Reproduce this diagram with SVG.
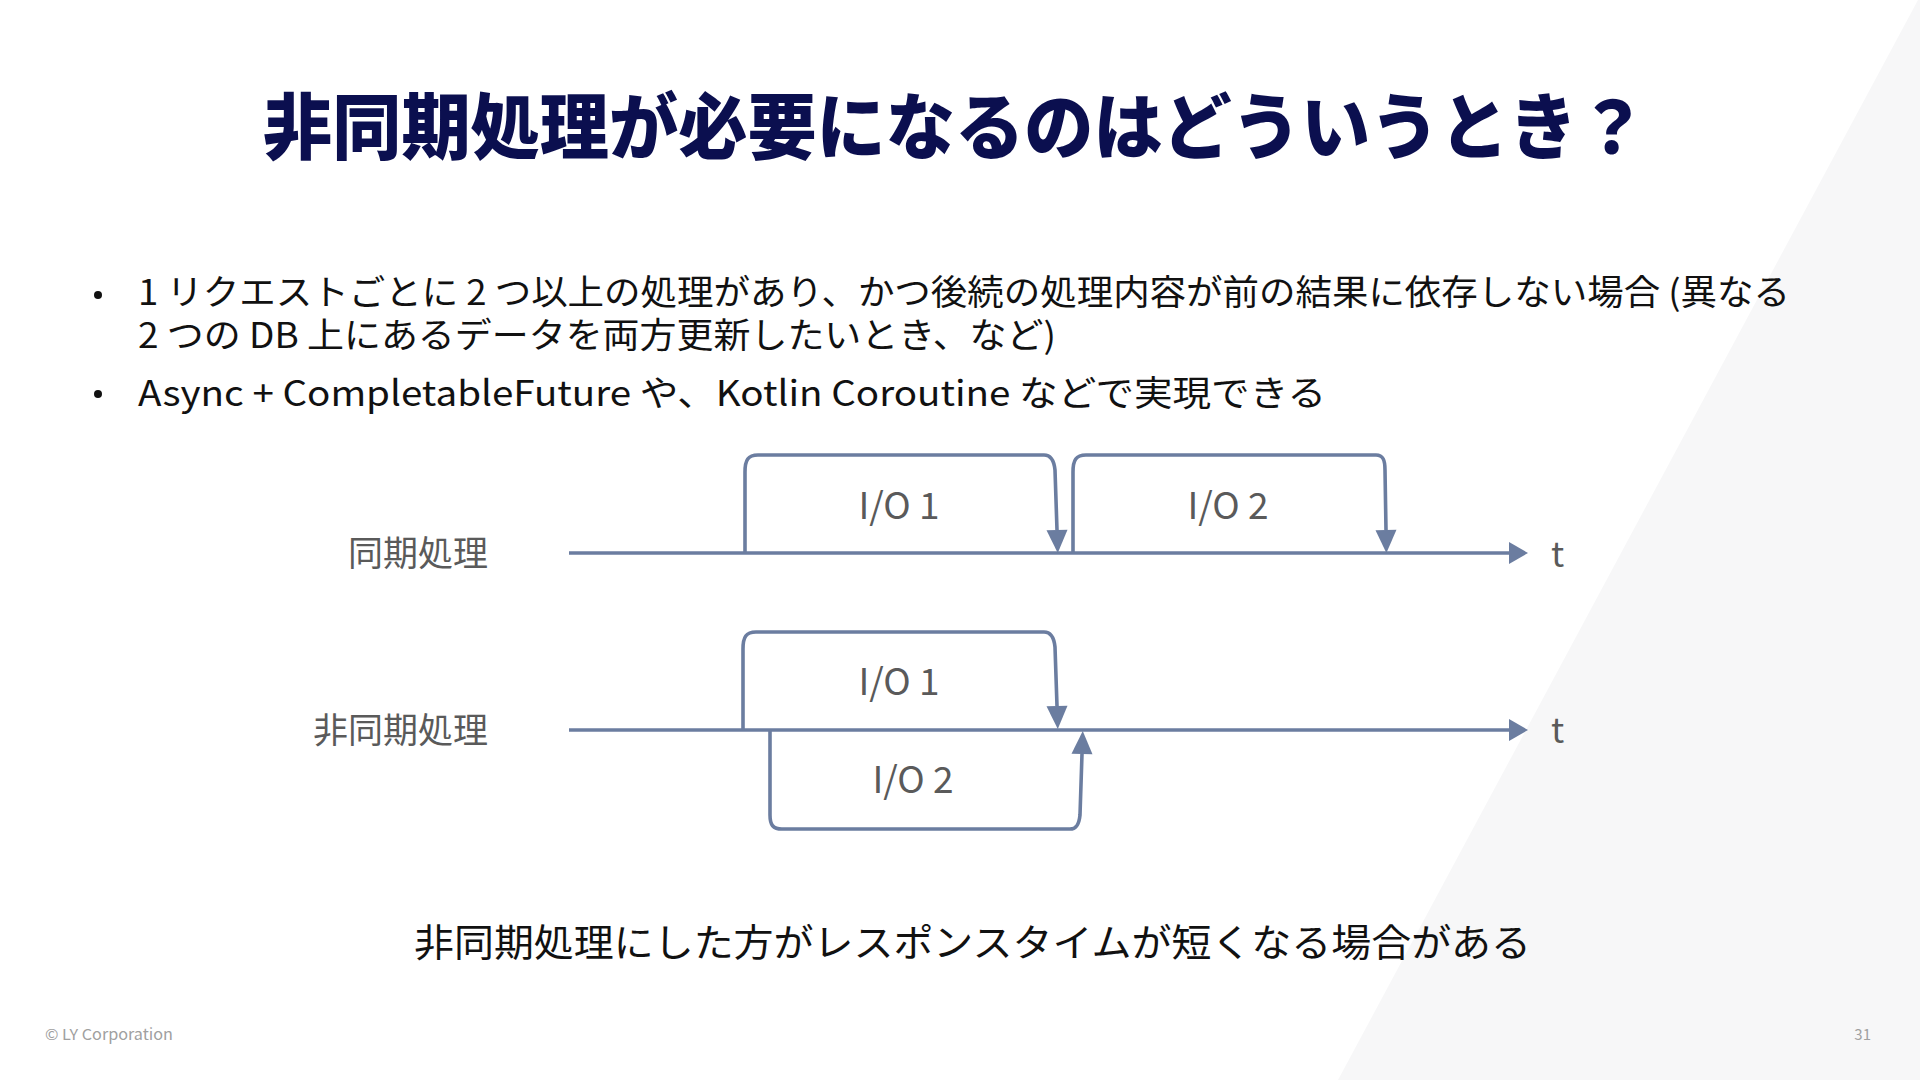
<svg xmlns="http://www.w3.org/2000/svg" width="1920" height="1080" viewBox="0 0 1920 1080">
  <style>
    .jp { font-family: "Noto Sans CJK JP", "Noto Sans", sans-serif; }
    .title { font-size: 72px; font-weight: 900; fill: #0b0f4f; }
    .body { font-size: 35px; fill: #111111; }
    .lbl { font-size: 35px; fill: #5a5a5a; }
    .io { font-size: 37px; fill: #5a5a5a; text-anchor: middle; }
    .foot { font-size: 15px; fill: #a0a0a0; }
    .ln { fill: none; stroke: #6b7da0; stroke-width: 3.6; stroke-linejoin: round; }
  </style>
  <defs>
    <marker id="ahd" markerUnits="userSpaceOnUse" markerWidth="23" markerHeight="22" refX="0" refY="10.5" orient="auto" overflow="visible">
      <path d="M0,0 L23,10.5 L0,21 z" fill="#6b7da0"/>
    </marker>
    <marker id="aha" markerUnits="userSpaceOnUse" markerWidth="19" markerHeight="22" refX="0" refY="11" orient="auto" overflow="visible">
      <path d="M0,0 L19,11 L0,22 z" fill="#6b7da0"/>
    </marker>
  </defs>

  <rect x="0" y="0" width="1920" height="1080" fill="#ffffff"/>
  <polygon points="1918,0 1920,0 1920,1080 1338,1080" fill="#f7f7f8"/>

  <g id="title">
    <text class="jp title" x="263" y="153" textLength="1384" lengthAdjust="spacingAndGlyphs">非同期処理が必要になるのはどういうとき？</text>
  </g>

  <g id="bullets">
    <circle cx="98" cy="295" r="4" fill="#111111"/>
    <text class="jp body" x="138" y="305" textLength="1652" lengthAdjust="spacingAndGlyphs">1 リクエストごとに 2 つ以上の処理があり、かつ後続の処理内容が前の結果に依存しない場合 (異なる</text>
    <text class="jp body" x="138" y="348" textLength="918" lengthAdjust="spacingAndGlyphs">2 つの DB 上にあるデータを両方更新したいとき、など)</text>
    <circle cx="98" cy="394" r="4" fill="#111111"/>
    <text class="jp body" x="138" y="406" textLength="1188" lengthAdjust="spacingAndGlyphs">Async + CompletableFuture や、Kotlin Coroutine などで実現できる</text>
  </g>

  <g id="connectors">
    <path class="ln" d="M569,553 H1509" marker-end="url(#aha)"/>
    <path class="ln" d="M745,553 V472 C745,460 748,455 758,455 H1044 C1051,455 1054,460 1055,470 L1057,530" marker-end="url(#ahd)"/>
    <path class="ln" d="M1073,553 V472 C1073,460 1076,455 1086,455 H1376 C1383,455 1385,460 1385,470 L1386,530" marker-end="url(#ahd)"/>
    <path class="ln" d="M569,730 H1509" marker-end="url(#aha)"/>
    <path class="ln" d="M743,730 V649 C743,637 746,632 756,632 H1044 C1051,632 1054,637 1055,647 L1057,706" marker-end="url(#ahd)"/>
    <path class="ln" d="M770,730 V815 C770,825 773,829 782,829 H1070 C1076,829 1079,825 1080,815 L1082,754" marker-end="url(#ahd)"/>
  </g>

  <g id="label-sync">
    <text class="jp lbl" x="488" y="566" text-anchor="end">同期処理</text>
  </g>
  <g id="label-async">
    <text class="jp lbl" x="488" y="743" text-anchor="end">非同期処理</text>
  </g>
  <g id="t-sync">
    <text class="jp lbl" x="1551" y="567">t</text>
  </g>
  <g id="t-async">
    <text class="jp lbl" x="1551" y="743">t</text>
  </g>

  <g id="sync-io1">
    <text class="jp io" x="899" y="519">I/O 1</text>
  </g>
  <g id="sync-io2">
    <text class="jp io" x="1228" y="519">I/O 2</text>
  </g>
  <g id="async-io1">
    <text class="jp io" x="899" y="695">I/O 1</text>
  </g>
  <g id="async-io2">
    <text class="jp io" x="913" y="793">I/O 2</text>
  </g>

  <g id="conclusion">
    <text class="jp body" x="414" y="956" style="font-size:38px" textLength="1117" lengthAdjust="spacingAndGlyphs">非同期処理にした方がレスポンスタイムが短くなる場合がある</text>
  </g>

  <g id="footer">
    <text class="jp foot" x="45" y="1040" textLength="128" lengthAdjust="spacingAndGlyphs">© LY Corporation</text>
    <text class="jp foot" x="1871" y="1040" text-anchor="end">31</text>
  </g>
</svg>
